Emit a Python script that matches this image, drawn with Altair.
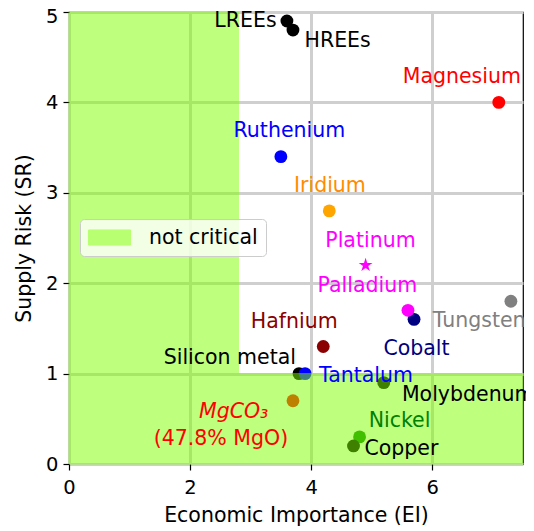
import altair as alt
import pandas as pd

# ---- data ----
names = ["LREEs", "HREEs", "Magnesium", "Ruthenium", "Iridium", "Platinum", "Cobalt",
         "Palladium", "Tungsten", "Hafnium", "Silicon metal", "Tantalum", "Molybdenum",
         "MgCO3", "Nickel", "Copper"]
ei = [3.6, 3.7, 7.1, 3.5, 4.3, 4.9, 5.7, 5.6, 7.3, 4.2, 3.8, 3.9, 5.2, 3.7, 4.8, 4.7]
sr = [4.9, 4.8, 4.0, 3.4, 2.8, 2.2, 1.6, 1.7, 1.8, 1.3, 1.0, 1.0, 0.9, 0.7, 0.3, 0.2]
point_colors = ["black", "black", "red", "blue", "orange", "magenta", "navy", "magenta",
                "gray", "darkred", "black", "blue", "black", "red", "green", "black"]
shapes = ["circle"] * 5 + ["star"] + ["circle"] * 10

label_text = ["LREEs", "HREEs", "Magnesium", "Ruthenium", "Iridium", "Platinum", "Palladium",
              "Cobalt", "Tungsten", "Hafnium", "Silicon metal", "Tantalum", "Molybdenum",
              "(47.8% MgO)", "Nickel", "Copper"]
label_x = [3.43, 3.89, 6.49, 3.64, 4.31, 4.98, 4.93, 5.74, 6.01, 3.72, 3.75, 4.13, 5.50, 2.51, 5.46, 4.88]
label_y = [4.90, 4.68, 4.28, 3.68, 3.08, 2.47, 1.97, 1.27, 1.58, 1.57, 1.17, 0.97, 0.76, 0.28, 0.48, 0.17]
label_align = ["right", "left", "center", "center", "center", "center", "center", "center",
               "left", "center", "right", "left", "left", "center", "center", "left"]
label_colors = ["black", "black", "red", "blue", "darkorange", "magenta", "magenta", "navy",
                "gray", "darkred", "black", "blue", "black", "red", "green", "black"]

formula_text = ["MgCO₃"]
formula_x = [2.72]
formula_y = [0.575]

# not-critical region boundary (EI < 2.8 or SR < 1)
region_x = [0.0, 2.8, 7.5]
region_y = [5.0, 1.0, 1.0]
region_base = [0.0, 0.0, 0.0]
region_name = ["not critical"] * 3

FONT = "DejaVu Sans"
FS = 20.5
TFS = 19.5
STAR = ("M0,-1L0.2245,-0.309L0.9511,-0.309L0.3633,0.118L0.5878,0.809L0,0.382"
        "L-0.5878,0.809L-0.3633,0.118L-0.9511,-0.309L-0.2245,-0.309Z")
RECT = "M-1,-0.36L1,-0.36L1,0.36L-1,0.36Z"

pts = pd.DataFrame({"name": names, "ei": ei, "sr": sr, "color": point_colors, "shape": shapes})
labels = pd.DataFrame({"text": label_text, "x": label_x, "y": label_y,
                       "align": label_align, "color": label_colors})
formula = pd.DataFrame({"text": formula_text, "x": formula_x, "y": formula_y})
region = pd.DataFrame({"x": region_x, "y": region_y, "y0": region_base, "name": region_name})

xscale = alt.Scale(domain=[0, 7.5], nice=False, zero=False)
yscale = alt.Scale(domain=[0, 5], nice=False, zero=False)
xaxis = alt.Axis(title="Economic Importance (EI)", values=[0, 2, 4, 6], format="d",
                 labelFlush=False)
yaxis = alt.Axis(title="Supply Risk (SR)", values=[0, 1, 2, 3, 4, 5], format="d",
                 labelFlush=False,
                 labelOffset={"condition": {"test": "datum.value == 5", "value": 4}, "value": 0})


def X(field):
    return alt.X(field, scale=xscale, axis=xaxis)


def Y(field):
    return alt.Y(field, scale=yscale, axis=yaxis)


circle_df = pts[pts["shape"] == "circle"]
star_df = pts[pts["shape"] == "star"]

circles = alt.Chart(circle_df).mark_point(
    filled=True, opacity=1, size=165, shape="circle"
).encode(
    x=X("ei:Q"), y=Y("sr:Q"),
    color=alt.Color("color:N", scale=None),
)

stars = alt.Chart(star_df).mark_point(
    filled=True, opacity=1, size=210, shape=STAR
).encode(
    x=X("ei:Q"), y=Y("sr:Q"),
    color=alt.Color("color:N", scale=None),
)

area = alt.Chart(region).mark_area(
    interpolate="step-after", opacity=0.5, stroke="#7fff00", strokeWidth=1
).encode(
    x=X("x:Q"), y=Y("y:Q"),
    y2="y0:Q",
    fill=alt.Fill("name:N",
                  scale=alt.Scale(domain=["not critical"], range=["#7fff00"]),
                  legend=alt.Legend(title=None, orient="none", legendX=11, legendY=207,
                                    symbolType=RECT, symbolSize=1764, clipHeight=21,
                                    symbolOpacity=0.5, symbolStrokeColor="#7fff00",
                                    symbolStrokeWidth=1,
                                    labelFontSize=FS, labelFont=FONT, labelColor="black",
                                    labelOffset=18, padding=8,
                                    fillColor="rgba(255,255,255,0.8)", strokeColor="#cccccc",
                                    cornerRadius=4)),
)

layers = []
for al in ["left", "center", "right"]:
    sub = labels[labels["align"] == al]
    layers.append(
        alt.Chart(sub).mark_text(
            align=al, baseline="middle", font=FONT, fontSize=FS, clip=False
        ).encode(
            x=X("x:Q"), y=Y("y:Q"),
            text="text:N",
            color=alt.Color("color:N", scale=None),
        )
    )

formula_layer = alt.Chart(formula).mark_text(
    align="center", baseline="middle", font=FONT, fontSize=FS, fontStyle="italic",
    color="red", clip=False
).encode(
    x=X("x:Q"), y=Y("y:Q"),
    text="text:N",
)

chart = alt.layer(circles, stars, area, *layers, formula_layer).properties(
    width=454, height=452,
    autosize=alt.AutoSizeParams(type="none"),
    padding={"left": 61, "top": 4, "right": 3, "bottom": 66},
).configure_view(
    stroke="black", strokeWidth=1.2
).configure_axis(
    labelFont=FONT, titleFont=FONT, labelFontSize=TFS, titleFontSize=FS,
    labelColor="black", titleColor="black", titleFontWeight="normal",
    tickColor="black", tickSize=6, tickWidth=1.2, domain=False,
    grid=True, gridColor="#cfcfcf", gridWidth=3,
).configure_axisX(
    labelPadding=8, titlePadding=9
).configure_axisY(
    labelPadding=5, titlePadding=11
)

chart.save("out.html", embed_options={"renderer": "svg", "actions": False})
